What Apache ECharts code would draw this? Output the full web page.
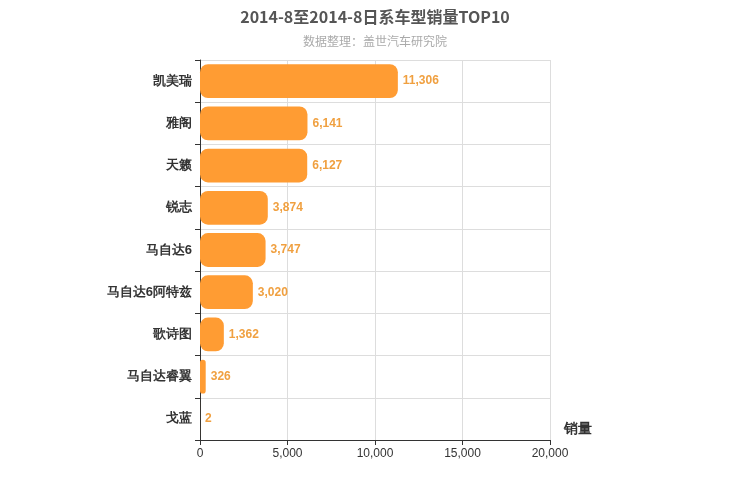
<!DOCTYPE html>
<html>
<head>
<meta charset="utf-8">
<script src="https://cdn.jsdelivr.net/npm/echarts@6/dist/echarts.min.js"></script>
<style>html,body{margin:0;padding:0;background:#fff}#chart{width:750px;height:500px}</style>
</head>
<body>
<div id="chart"></div>
<script>
var categories = ['凯美瑞', '雅阁', '天籁', '锐志', '马自达6', '马自达6阿特兹', '歌诗图', '马自达睿翼', '戈蓝'];
var sales = [11306, 6141, 6127, 3874, 3747, 3020, 1362, 326, 2];
var xTicks = [0, 5000, 10000, 15000, 20000];

var chart = echarts.init(document.getElementById('chart'));
chart.setOption({
    title: {
        text: '2014-8至2014-8日系车型销量TOP10',
        subtext: '数据整理：盖世汽车研究院',
        left: 'center',
        top: 4,
        itemGap: 10,
        textStyle: { fontSize: 16, fontWeight: 'bold', color: '#555', fontFamily: 'Noto Sans CJK SC' },
        subtextStyle: { fontSize: 12, color: '#aaa', fontFamily: 'Noto Sans CJK SC' }
    },
    grid: { left: 200, right: 200, top: 60, bottom: 60 },
    xAxis: {
        type: 'value',
        min: xTicks[0],
        max: xTicks[xTicks.length - 1],
        interval: 5000,
        name: '销量',
        nameGap: 14,
        nameTextStyle: { fontSize: 14, fontWeight: 'bold', color: '#333', verticalAlign: 'top', padding: [-18, 0, 0, 0] },
        axisLine: { show: true, lineStyle: { color: '#333' } },
        axisTick: { show: true, lineStyle: { color: '#333' } },
        axisLabel: { color: '#333', fontSize: 12 },
        splitLine: { lineStyle: { color: '#ddd' } }
    },
    yAxis: {
        type: 'category',
        inverse: true,
        data: categories,
        axisLine: { lineStyle: { color: '#333' } },
        axisTick: { show: true, length: 5 },
        axisLabel: { color: '#333', fontSize: 13, fontWeight: 'bold' },
        splitLine: { show: true, lineStyle: { color: '#ddd' } }
    },
    series: [{
        type: 'bar',
        data: sales,
        barWidth: '80%',
        itemStyle: { color: '#ff9c33', borderRadius: 8 },
        label: {
            show: true,
            position: 'right',
            color: '#f0a040',
            fontSize: 12,
            fontWeight: 'bold',
            formatter: function (p) { return p.value.toLocaleString('en-US'); }
        }
    }]
});
</script>
</body>
</html>
